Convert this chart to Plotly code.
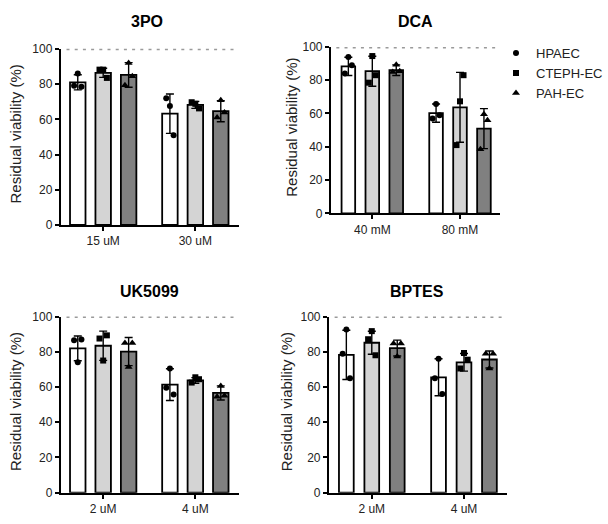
import plotly.graph_objects as go

cell_lines = ["HPAEC", "CTEPH-EC", "PAH-EC"]
panel_titles = ["3PO", "DCA", "UK5099", "BPTES"]
dose_labels = [["15 uM", "30 uM"], ["40 mM", "80 mM"], ["2 uM", "4 uM"], ["2 uM", "4 uM"]]

# bar means [dose1, dose2] per cell line (HPAEC, CTEPH-EC, PAH-EC)
means_3po = [[81.0, 63.2], [86.4, 68.2], [85.2, 64.6]]
means_dca = [[88.3, 60.2], [85.4, 63.7], [86.0, 50.9]]
means_uk5099 = [[81.9, 61.3], [83.4, 63.7], [80.1, 56.6]]
means_bptes = [[78.2, 65.5], [85.1, 74.0], [82.1, 75.6]]

# standard deviations
sd_3po = [[4.3, 11.2], [2.6, 2.0], [7.0, 6.0]]
sd_dca = [[5.5, 5.5], [9.0, 21.0], [3.2, 12.0]]
sd_uk5099 = [[7.0, 9.0], [8.3, 1.6], [8.0, 4.0]]
sd_bptes = [[14.0, 10.5], [6.5, 5.0], [4.5, 4.8]]

# individual replicate points [dose1 triple, dose2 triple]
pts_3po = [[[79.0, 86.0, 78.5], [72.0, 67.5, 51.0]],
           [[88.2, 88.2, 83.5], [69.7, 68.8, 66.2]],
           [[79.4, 91.9, 84.4], [61.0, 70.8, 63.8]]]
pts_dca = [[[84.0, 94.0, 89.0], [57.0, 65.7, 59.0]],
           [[78.5, 94.5, 83.0], [41.0, 67.3, 83.0]],
           [[84.9, 89.3, 85.3], [38.5, 59.5, 56.0]]]
pts_uk5099 = [[[86.5, 74.0, 87.0], [59.5, 70.5, 55.7]],
              [[87.5, 75.0, 89.3], [62.5, 65.5, 64.4]],
              [[85.0, 71.4, 85.0], [54.5, 60.5, 55.0]]]
pts_bptes = [[[78.8, 92.6, 65.0], [65.0, 76.0, 56.0]],
             [[87.1, 91.7, 78.0], [70.5, 79.3, 75.5]],
             [[84.7, 77.3, 84.7], [78.8, 70.5, 78.8]]]

y_ticks = [0, 20, 40, 60, 80, 100]
reference_level = 100

all_means = [means_3po, means_dca, means_uk5099, means_bptes]
all_sd = [sd_3po, sd_dca, sd_uk5099, sd_bptes]
all_pts = [pts_3po, pts_dca, pts_uk5099, pts_bptes]

# ---- styling / layout ----
W, H = 608, 524
bar_colors = ["#ffffff", "#d4d4d4", "#808080"]
symbols = ["circle", "square", "triangle-up"]
FONT = "Arial, 'Liberation Sans', Helvetica, sans-serif"

# pixel geometry of each panel: (x_left, x_right, y_bottom, y_top)
px = [(61, 240, 224, 43), (332, 502, 212, 41), (61, 240, 499, 318), (330, 509, 499, 318)]
title_pos = [(147, 15), (417, 15), (150, 292), (418, 292)]
ytitle_off = [45.5, 39.5, 45.5, 42.5]
xranges = [[-0.46, 1.476], [-0.472, 1.46], [-0.46, 1.476], [-0.465, 1.47]]
spacing = [0.276, 0.273, 0.276, 0.276]
bwidth = [0.168, 0.155, 0.168, 0.160]
jitter = [-0.04, 0.0, 0.04]

fig = go.Figure()
layout = dict(width=W, height=H, margin=dict(l=0, r=0, t=0, b=0),
              plot_bgcolor="white", paper_bgcolor="white",
              barmode="overlay", font=dict(family=FONT, color="#222"),
              shapes=[], annotations=[])

for p in range(4):
    xa = "x" if p == 0 else f"x{p+1}"
    ya = "y" if p == 0 else f"y{p+1}"
    s, bw = spacing[p], bwidth[p]
    for k in range(3):
        fig.add_trace(go.Bar(
            x=[0, 1], y=all_means[p][k], width=bw, offset=(k - 1) * s - bw / 2,
            marker=dict(color=bar_colors[k], line=dict(color="black", width=1.8)),
            error_y=dict(type="data", array=all_sd[p][k], color="black", thickness=1.4, width=4),
            xaxis=xa, yaxis=ya, showlegend=False, hoverinfo="skip"))
    for k in range(3):
        xs, ys = [], []
        for g in range(2):
            for j, v in enumerate(all_pts[p][k][g]):
                xs.append(g + (k - 1) * s + jitter[j])
                ys.append(v)
        fig.add_trace(go.Scatter(
            x=xs, y=ys, mode="markers", name=cell_lines[k],
            marker=dict(symbol=symbols[k], color="black", size=6 if k < 2 else 7),
            xaxis=xa, yaxis=ya, showlegend=(p == 0), cliponaxis=False))

    xl, xr, yb, yt = px[p]
    xdom = [xl / W, xr / W]
    ydom = [1 - yb / H, 1 - yt / H]
    axis_common = dict(showline=True, linecolor="black", linewidth=2, ticks="outside",
                       ticklen=4, tickwidth=1.5, tickcolor="black", showgrid=False,
                       zeroline=False, tickfont=dict(size=12, family=FONT, color="#222"))
    layout["xaxis" if p == 0 else f"xaxis{p+1}"] = dict(
        domain=xdom, range=xranges[p], tickvals=[0, 1], ticktext=dose_labels[p],
        anchor=ya, fixedrange=True, **axis_common)
    layout["yaxis" if p == 0 else f"yaxis{p+1}"] = dict(
        domain=ydom, range=[0, 100], tickvals=y_ticks, anchor=xa, fixedrange=True,
        **axis_common)
    layout["shapes"].append(dict(
        type="line", xref=f"{xa} domain", yref=ya, x0=0.032, x1=0.99,
        y0=reference_level, y1=reference_level,
        line=dict(color="#9a9a9a", width=3, dash="3px,5.2px"), layer="below"))
    tx, ty = title_pos[p]
    layout["annotations"].append(dict(
        text=f"<b>{panel_titles[p]}</b>", xref="paper", yref="paper",
        x=tx / W, y=1 - ty / H, showarrow=False,
        font=dict(size=16, family=FONT, color="black"), xanchor="center", yanchor="middle"))
    layout["annotations"].append(dict(
        text="Residual viability (%)", xref="paper", yref="paper",
        x=(xl - ytitle_off[p]) / W, y=1 - ((yb + yt) / 2 - 3) / H, showarrow=False,
        textangle=-90, font=dict(size=15, family=FONT, color="#222"),
        xanchor="center", yanchor="middle"))

layout["legend"] = dict(x=498 / W, y=1 - 32 / H, xanchor="left", yanchor="top",
                        font=dict(size=13, family=FONT, color="#222"),
                        bgcolor="rgba(0,0,0,0)", itemclick=False)
fig.update_layout(**layout)
fig.write_html("out.html", config={"displayModeBar": False},
               post_script="document.body.style.margin='0';document.body.style.overflow='hidden';")
